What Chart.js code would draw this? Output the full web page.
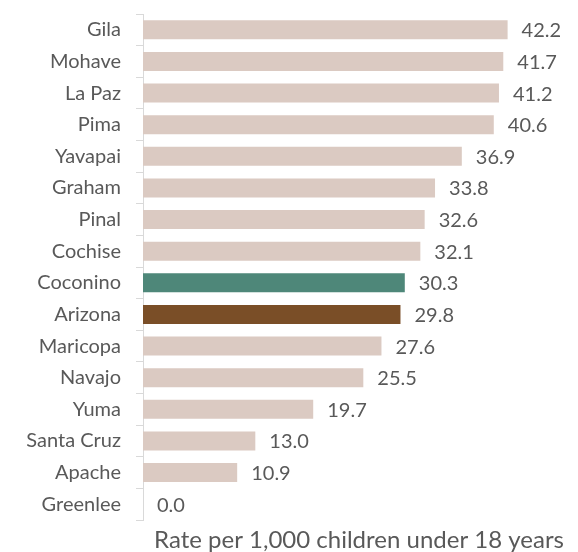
<!DOCTYPE html>
<html>
<head>
<meta charset="utf-8">
<script src="https://cdn.jsdelivr.net/npm/chart.js@4.4.0/dist/chart.umd.min.js"></script>
<style>
  html, body { margin: 0; padding: 0; background: #fff; }
  #wrap { width: 578px; height: 552px; }
</style>
</head>
<body>
<div id="wrap"><canvas id="chart"></canvas></div>
<script>
// 郡名と値
const counties = ['Gila', 'Mohave', 'La Paz', 'Pima', 'Yavapai', 'Graham', 'Pinal', 'Cochise',
  'Coconino', 'Arizona', 'Maricopa', 'Navajo', 'Yuma', 'Santa Cruz', 'Apache', 'Greenlee'];
const rates = [42.2, 41.7, 41.2, 40.6, 36.9, 33.8, 32.6, 32.1, 30.3, 29.8, 27.6, 25.5, 19.7, 13.0, 10.9, 0.0];
const axisTitle = 'Rate per 1,000 children under 18 years';

// 色分け（Coconino と Arizona だけ別色）
const barColors = counties.map(c => c === 'Coconino' ? '#4e8779' : c === 'Arizona' ? '#7a4e27' : '#dbcac2');

const FONT = 'Lato, "Open Sans", sans-serif';
const TEXT = '#595959';

// バーの右に値を描く
const valueLabels = {
  id: 'valueLabels',
  afterDatasetsDraw(chart) {
    const ctx = chart.ctx;
    const meta = chart.getDatasetMeta(0);
    ctx.save();
    ctx.font = '20px ' + FONT;
    ctx.fillStyle = TEXT;
    ctx.textBaseline = 'middle';
    ctx.textAlign = 'left';
    meta.data.forEach((bar, i) => {
      ctx.fillText(rates[i].toFixed(1), bar.x + 14, bar.y + 1);
    });
    ctx.restore();
  }
};

new Chart(document.getElementById('chart'), {
  type: 'bar',
  data: {
    labels: counties,
    datasets: [{
      data: rates,
      backgroundColor: barColors,
      barPercentage: 0.6,
      categoryPercentage: 1.0
    }]
  },
  options: {
    indexAxis: 'y',
    responsive: true,
    maintainAspectRatio: false,
    animation: false,
    layout: { padding: { top: 14, right: 3, left: 0, bottom: 0 } },
    plugins: {
      legend: { display: false },
      tooltip: { enabled: false }
    },
    scales: {
      x: {
        min: 0,
        max: 50,
        grid: { display: false, drawTicks: false },
        border: { display: false },
        ticks: { display: false },
        title: {
          display: true,
          text: axisTitle,
          color: TEXT,
          font: { family: FONT, size: 24, lineHeight: 1.0 },
          padding: { top: 7, bottom: 0 }
        },
        afterFit(scale) { scale.height = 32; }
      },
      y: {
        grid: {
          display: true,
          drawOnChartArea: false,
          offset: true,
          tickLength: 7,
          color: '#d9d9d9'
        },
        border: { display: true, color: '#d9d9d9', width: 1 },
        ticks: {
          color: TEXT,
          padding: 15,
          font: { family: FONT, size: 20 }
        },
        afterFit(scale) {
          scale.width = 143;
          // ラベル由来の上下余白を消す
          scale.paddingTop = 0;
          scale.paddingBottom = 0;
        }
      }
    }
  },
  plugins: [valueLabels]
});
</script>
</body>
</html>
